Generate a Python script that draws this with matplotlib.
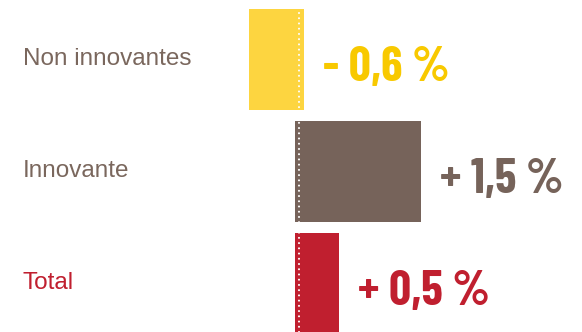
import matplotlib.pyplot as plt

# Données
categories = ["Non innovantes", "Innovante", "Total"]
valeurs = [-0.6, 1.5, 0.5]
etiquettes = ["-\u20090,6 %", "+\u20091,5 %", "+\u20090,5 %"]

# Couleurs
couleurs_barres = ["#FDD540", "#76635A", "#C01F2F"]
couleurs_valeurs = ["#F8C900", "#76635A", "#C01F2F"]
couleurs_noms = ["#7A675D", "#7A675D", "#C01F2F"]


def main():
	fig = plt.figure(figsize=(5.82, 3.32), dpi=100)
	ax = fig.add_axes([0, 0, 1, 1])
	ax.set_xlim(-3.634, 3.463)
	ax.set_ylim(2.433, -0.531)
	ax.axis("off")

	for i, (v, c) in enumerate(zip(valeurs, couleurs_barres)):
		# petit débord du côté du zéro
		if v < 0:
			ax.barh(i, -v + 0.07, left=v, height=0.9, color=c, linewidth=0)
		else:
			ax.barh(i, v + 0.04, left=-0.04, height=0.9, color=c, linewidth=0)

	# ligne pointillée blanche au zéro
	ax.axvline(0.01, color="white", linewidth=1.5, linestyle=(0, (0.01, 2.5)),
			   dash_capstyle="round", zorder=3)

	for i, (nom, c) in enumerate(zip(categories, couleurs_noms)):
		ax.text(0.039, i + 0.045, nom, transform=ax.get_yaxis_transform(),
				ha="left", va="baseline", fontsize=17.5, color=c,
				family=["Liberation Sans", "DejaVu Sans"])

	for i, (v, lab, c) in enumerate(zip(valeurs, etiquettes, couleurs_valeurs)):
		ax.annotate(lab, xy=(max(v, 0) + (0.07 if v < 0 else 0), i + 0.19),
					xytext=(14, 0), textcoords="offset points",
					ha="left", va="baseline", fontsize=35, fontweight="bold",
					color=c, family=["Barlow Condensed", "DejaVu Sans"])

	plt.savefig("out.png", dpi=100)


if __name__ == "__main__":
	main()
